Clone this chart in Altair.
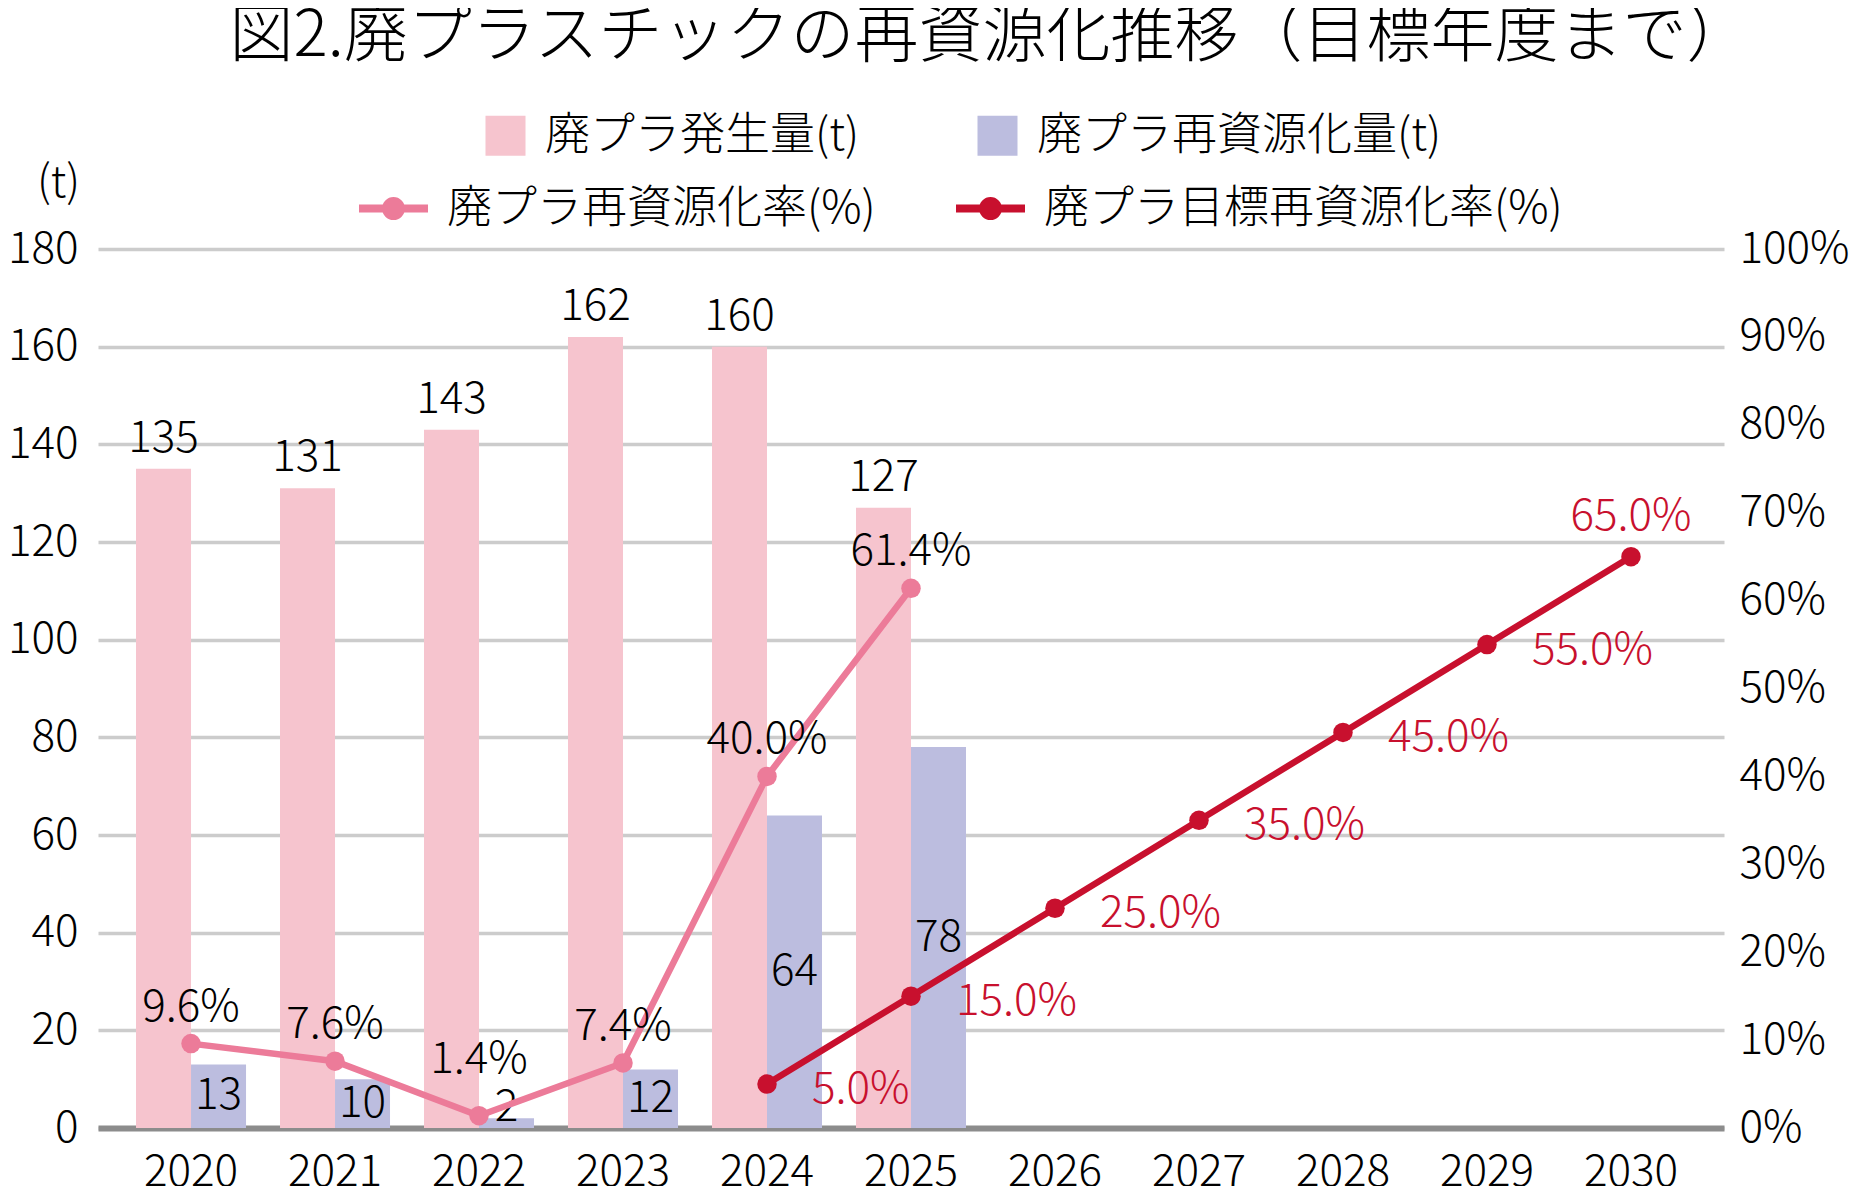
import altair as alt
import pandas as pd

# ---------------- data ----------------
YEARS = ["2020", "2021", "2022", "2023", "2024", "2025", "2026", "2027", "2028", "2029", "2030"]
BAR_YEARS = ["2020", "2021", "2022", "2023", "2024", "2025"]
GENERATED = [135, 131, 143, 162, 160, 127]
RECYCLED = [13, 10, 2, 12, 64, 78]
RATE_YEARS = ["2020", "2021", "2022", "2023", "2024", "2025"]
RATE = [9.6, 7.6, 1.4, 7.4, 40.0, 61.4]
TARGET_YEARS = ["2024", "2025", "2026", "2027", "2028", "2029", "2030"]
TARGET = [5.0, 15.0, 25.0, 35.0, 45.0, 55.0, 65.0]
LEFT_TICKS = [0, 20, 40, 60, 80, 100, 120, 140, 160, 180]
RIGHT_TICKS = [0, 10, 20, 30, 40, 50, 60, 70, 80, 90, 100]

S_GEN = "廃プラ発生量(t)"
S_REC = "廃プラ再資源化量(t)"
S_RATE = "廃プラ再資源化率(%)"
S_TGT = "廃プラ目標再資源化率(%)"
TITLE = "図2.廃プラスチックの再資源化推移（目標年度まで）"
UNIT = "(t)"

# ---------------- style ----------------
FONT = "Noto Sans CJK JP"
W = 300
PINK_BAR = "#F6C4CE"
BLUE_BAR = "#BCBDDF"
PINK_LINE = "#EC7B99"
RED_LINE = "#C8102E"

bars_df = pd.DataFrame({
    "year": BAR_YEARS + BAR_YEARS,
    "series": [S_GEN] * len(GENERATED) + [S_REC] * len(RECYCLED),
    "value": GENERATED + RECYCLED,
})
lines_df = pd.DataFrame({
    "year": RATE_YEARS + TARGET_YEARS,
    "series": [S_RATE] * len(RATE) + [S_TGT] * len(TARGET),
    "value": RATE + TARGET,
})

x_enc = alt.X(
    "year:N",
    sort=YEARS,
    scale=alt.Scale(domain=YEARS, paddingInner=0.236, paddingOuter=0.264),
    axis=alt.Axis(title=None, labelAngle=0, ticks=False, domainColor="#8c8c8c",
                  domainWidth=6, labelPadding=22, labelFontSize=44, grid=False),
)
xoff = alt.XOffset("series:N", sort=[S_GEN, S_REC],
                   scale=alt.Scale(domain=[S_GEN, S_REC], paddingInner=0, paddingOuter=0))

left_axis = alt.Axis(
    values=LEFT_TICKS, title=UNIT, titleAngle=0, titleX=-40, titleY=-66,
    titleAlign="center", titleBaseline="middle", titleFontSize=44,
    titleFontWeight=W, domain=False, ticks=False, labelPadding=20,
    labelFontSize=44, grid=True, gridColor="#cccccc", gridWidth=3.5,
)
left_scale = alt.Scale(domain=[0, 180], nice=False)

bar_legend = alt.Legend(
    title=None, orient="none", legendX=385, legendY=-136, direction="horizontal",
    symbolType="square", symbolSize=1600, symbolStrokeWidth=0, symbolOpacity=1,
    labelFontSize=45, labelOffset=17, columnPadding=115, labelLimit=2000, padding=0,
)

bars = alt.Chart(bars_df).mark_bar().encode(
    x=x_enc,
    xOffset=xoff,
    y=alt.Y("value:Q", scale=left_scale, axis=left_axis),
    color=alt.Color("series:N", sort=[S_GEN, S_REC],
                    scale=alt.Scale(domain=[S_GEN, S_REC], range=[PINK_BAR, BLUE_BAR]),
                    legend=bar_legend),
)

gen_labels = alt.Chart(bars_df).transform_filter(
    alt.datum.series == S_GEN
).mark_text(dy=-30, fontSize=44, fontWeight=W, color="black", baseline="middle").encode(
    x=x_enc, xOffset=xoff,
    y=alt.Y("value:Q", scale=left_scale, axis=left_axis),
    text=alt.Text("value:Q"),
)

rec_labels = alt.Chart(bars_df).transform_filter(
    alt.datum.series == S_REC
).transform_calculate(
    ypos="max(datum.value / 2, 4)"
).mark_text(fontSize=44, fontWeight=W, color="black", baseline="middle").encode(
    x=x_enc, xOffset=xoff,
    y=alt.Y("ypos:Q", scale=left_scale, axis=left_axis),
    text=alt.Text("value:Q"),
)

left = alt.layer(bars, gen_labels, rec_labels)

right_axis = alt.Axis(
    orient="right", values=RIGHT_TICKS, labelExpr="datum.value + '%'", title=None,
    domain=False, ticks=False, grid=False, labelPadding=15, labelFontSize=44,
)
right_scale = alt.Scale(domain=[0, 100], nice=False)

LEGEND_PATH = ("M-1,0L1,0"
               "M0.101,0A0.101,0.101 0 1,1 -0.101,0A0.101,0.101 0 1,1 0.101,0"
               "M0.217,0A0.217,0.217 0 1,1 -0.217,0A0.217,0.217 0 1,1 0.217,0")
line_legend = alt.Legend(
    title=None, orient="none", legendX=257, legendY=-79, direction="horizontal",
    symbolType=LEGEND_PATH, symbolSize=4761, symbolStrokeWidth=8,
    labelFontSize=45, labelOffset=15, columnPadding=64, labelLimit=2000, padding=0,
)
line_color = alt.Color("series:N", sort=[S_RATE, S_TGT],
                       scale=alt.Scale(domain=[S_RATE, S_TGT], range=[PINK_LINE, RED_LINE]),
                       legend=line_legend)

y_right = alt.Y("value:Q", scale=right_scale, axis=right_axis)

lines = alt.Chart(lines_df).mark_line(strokeWidth=6.5).encode(
    x=x_enc, y=y_right, color=line_color, detail="series:N",
)
points = alt.Chart(lines_df).mark_circle(size=380, opacity=1).encode(
    x=x_enc, y=y_right, color=line_color,
)
label_expr = "format(datum.value, '.1f') + '%'"
# the rate label keeps clear of the small recycled-amount label beneath it
rate_labels = alt.Chart(lines_df).transform_filter(
    alt.datum.series == S_RATE
).transform_calculate(lab=label_expr, ylab="max(datum.value, 3.6)").mark_text(
    dy=-36, fontSize=44, fontWeight=W, color="black", baseline="middle"
).encode(x=x_enc, y=alt.Y("ylab:Q", scale=right_scale, axis=right_axis), text="lab:N")

tgt_labels_side = alt.Chart(lines_df).transform_filter(
    (alt.datum.series == S_TGT) & (alt.datum.year != YEARS[-1])
).transform_calculate(lab=label_expr).mark_text(
    dx=45, dy=6, align="left", fontSize=44, fontWeight=W, color=RED_LINE, baseline="middle"
).encode(x=x_enc, y=y_right, text="lab:N")

tgt_labels_top = alt.Chart(lines_df).transform_filter(
    (alt.datum.series == S_TGT) & (alt.datum.year == YEARS[-1])
).transform_calculate(lab=label_expr).mark_text(
    dy=-40, align="center", fontSize=44, fontWeight=W, color=RED_LINE, baseline="middle"
).encode(x=x_enc, y=y_right, text="lab:N")

right = alt.layer(lines, points, rate_labels, tgt_labels_side, tgt_labels_top)

chart = alt.layer(left, right).resolve_scale(
    y="independent", color="independent"
).properties(
    width=1626, height=879,
    autosize=alt.AutoSizeParams(type="none"),
    padding={"left": 90, "top": 241, "right": 127, "bottom": 58},
    title=alt.TitleParams(text=TITLE, fontSize=64, fontWeight=W, anchor="middle",
                          dx=79, dy=-24, offset=20, color="black", font=FONT),
).configure(font=FONT).configure_view(stroke=None).configure_axis(
    labelFont=FONT, titleFont=FONT, labelColor="black", titleColor="black",
    labelFontWeight=W,
).configure_legend(labelFont=FONT, labelColor="black", labelFontWeight=W).configure_text(font=FONT)

chart.save("out.html", embed_options={"renderer": "svg", "actions": False})
